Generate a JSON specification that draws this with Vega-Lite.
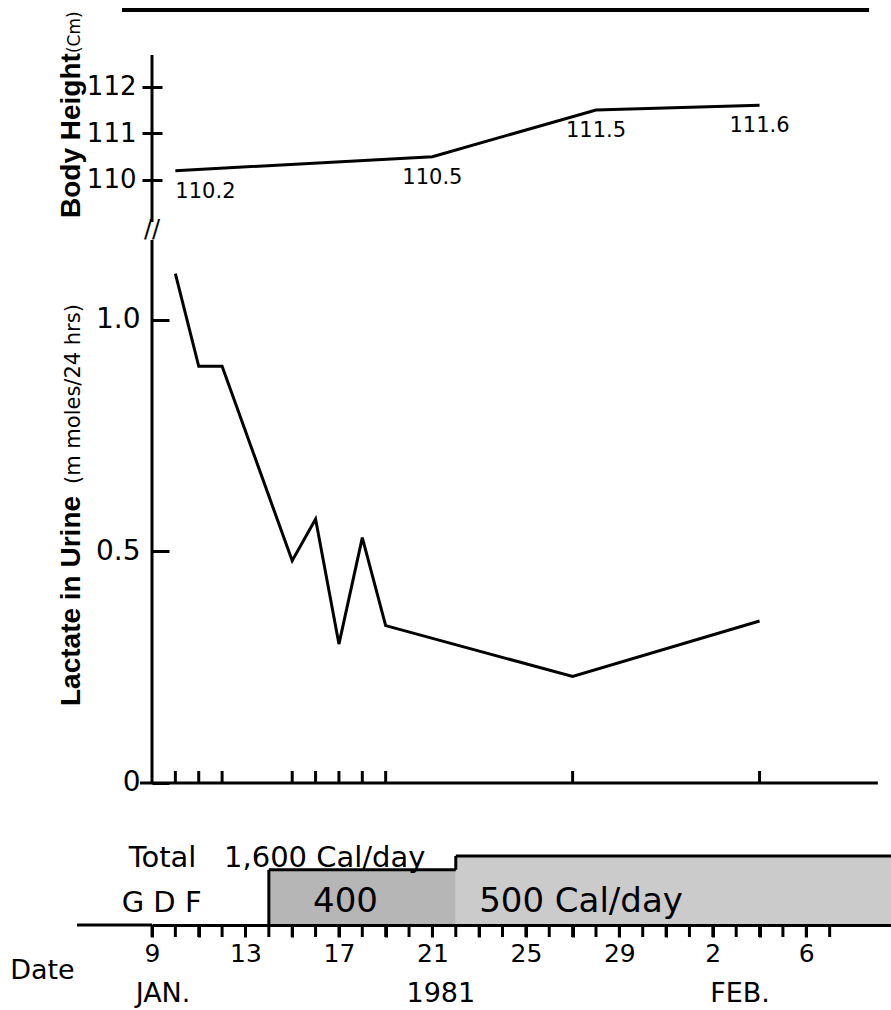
{
  "$schema": "https://vega.github.io/schema/vega-lite/v6.json",
  "autosize": {"type": "none"},
  "padding": {"left": 152, "top": 0, "right": 0, "bottom": 85},
  "width": 739,
  "height": 925,
  "background": "white",
  "config": {
    "view": {"stroke": null},
    "axis": {"grid": false, "labelFont": "DejaVu Sans", "labelColor": "black", "domainColor": "black", "tickColor": "black", "ticks": true},
    "text": {"font": "DejaVu Sans", "color": "black"}
  },
  "resolve": {"scale": {"y": "independent"}, "axis": {"y": "independent"}},
  "layer": [
    {
      "data": {"values": [
        {"date": "1981-01-10", "height_cm": 110.2},
        {"date": "1981-01-21", "height_cm": 110.5},
        {"date": "1981-01-28", "height_cm": 111.5},
        {"date": "1981-02-04", "height_cm": 111.6}
      ]},
      "layer": [
        {
          "mark": {"type": "line", "color": "black", "strokeWidth": 3},
          "encoding": {
            "x": {"field": "date", "type": "temporal",
              "scale": {"type": "utc", "nice": false, "domain": [{"year": 1981, "month": 1, "date": 9, "utc": true}, {"year": 1981, "month": 2, "date": 9, "hours": 15, "utc": true}]},
              "axis": {"orient": "bottom", "zindex": 1, "title": null, "ticks": true,
                "values": [347846400000, 347932800000, 348019200000, 348105600000, 348192000000, 348278400000, 348364800000, 348451200000, 348537600000, 348624000000, 348710400000, 348796800000, 348883200000, 348969600000, 349056000000, 349142400000, 349228800000, 349315200000, 349401600000, 349488000000, 349574400000, 349660800000, 349747200000, 349833600000, 349920000000, 350006400000, 350092800000, 350179200000, 350265600000, 350352000000],
                "labelExpr": "(round((datum.value - 347846400000) / 86400000) % 4 == 0) ? utcFormat(datum.value, '%-d') : ''",
                "tickSize": 12, "tickWidth": 3, "tickColor": "black", "tickOpacity": 1, "domainWidth": 3, "labelFontSize": 25, "labelBaseline": "alphabetic", "labelPadding": 24, "labelOverlap": false, "labelFlush": false}},
            "y": {"field": "height_cm", "type": "quantitative",
              "scale": {"domain": [94.03, 113.8585], "nice": false, "zero": false},
              "axis": {"orient": "left", "values": [110, 111, 112], "offset": -10, "tickSize": 20, "tickWidth": 3, "domain": false, "labelFontSize": 26, "labelPadding": 6, "labelBaseline": "middle", "title": null, "format": "d"}}
          }
        },
        {
          "transform": [{"filter": "datum.height_cm == 110.2"}],
          "mark": {"type": "text", "align": "left", "baseline": "alphabetic", "dy": 27, "fontSize": 21},
          "encoding": {
            "x": {"field": "date", "type": "temporal"},
            "y": {"field": "height_cm", "type": "quantitative"},
            "text": {"field": "height_cm", "type": "quantitative", "format": ".1f"}
          }
        },
        {
          "transform": [{"filter": "datum.height_cm != 110.2"}],
          "mark": {"type": "text", "align": "center", "baseline": "alphabetic", "dy": 27, "fontSize": 21},
          "encoding": {
            "x": {"field": "date", "type": "temporal"},
            "y": {"field": "height_cm", "type": "quantitative"},
            "text": {"field": "height_cm", "type": "quantitative", "format": ".1f"}
          }
        },
        {
          "data": {"values": [{}]},
          "mark": {"type": "rule", "color": "black", "strokeWidth": 3},
          "encoding": {
            "x": {"datum": {"year": 1981, "month": 1, "date": 9, "utc": true}, "type": "temporal"},
            "y": {"datum": 109.1, "type": "quantitative"},
            "y2": {"datum": 112.68}
          }
        },
        {
          "data": {"values": [{}]},
          "mark": {"type": "text", "text": "//", "fontSize": 24, "align": "center", "baseline": "middle"},
          "encoding": {
            "x": {"datum": {"year": 1981, "month": 1, "date": 9, "utc": true}, "type": "temporal"},
            "y": {"datum": 108.93, "type": "quantitative"}
          }
        },
        {
          "data": {"values": [{}]},
          "mark": {"type": "rule", "color": "black", "strokeWidth": 4},
          "encoding": {
            "x": {"datum": {"year": 1981, "month": 1, "date": 7, "hours": 17, "minutes": 10, "utc": true}, "type": "temporal"},
            "x2": {"datum": {"year": 1981, "month": 2, "date": 8, "hours": 16, "minutes": 30, "utc": true}},
            "y": {"datum": 113.644, "type": "quantitative"}
          }
        },
        {
          "data": {"values": [{}]},
          "mark": {"type": "text", "text": "Body Height", "angle": 270, "align": "left", "baseline": "alphabetic", "font": "Liberation Sans", "fontWeight": "bold", "fontSize": 28},
          "encoding": {
            "x": {"datum": {"year": 1981, "month": 1, "date": 5, "hours": 22, "minutes": 20, "utc": true}, "type": "temporal"},
            "y": {"datum": 109.185, "type": "quantitative"}
          }
        },
        {
          "data": {"values": [{}]},
          "mark": {"type": "text", "text": "(Cm)", "angle": 270, "align": "left", "baseline": "alphabetic", "fontSize": 17},
          "encoding": {
            "x": {"datum": {"year": 1981, "month": 1, "date": 5, "hours": 22, "minutes": 20, "utc": true}, "type": "temporal"},
            "y": {"datum": 112.72, "type": "quantitative"}
          }
        }
      ]
    },
    {
      "data": {"values": [
        {"date": "1981-01-10", "lactate": 1.10},
        {"date": "1981-01-11", "lactate": 0.90},
        {"date": "1981-01-12", "lactate": 0.90},
        {"date": "1981-01-15", "lactate": 0.48},
        {"date": "1981-01-16", "lactate": 0.57},
        {"date": "1981-01-17", "lactate": 0.30},
        {"date": "1981-01-18", "lactate": 0.53},
        {"date": "1981-01-19", "lactate": 0.34},
        {"date": "1981-01-27", "lactate": 0.23},
        {"date": "1981-02-04", "lactate": 0.35}
      ]},
      "layer": [
        {
          "mark": {"type": "line", "color": "black", "strokeWidth": 3},
          "encoding": {
            "x": {"field": "date", "type": "temporal"},
            "y": {"field": "lactate", "type": "quantitative",
              "scale": {"domain": [-0.3067, 1.69114], "nice": false, "zero": false},
              "axis": {"orient": "left", "values": [0, 0.5, 1], "offset": -17, "tickSize": 17, "tickWidth": 3, "domain": false, "labelFontSize": 28, "labelPadding": 12, "labelBaseline": "middle", "title": null, "labelExpr": "datum.value == 0 ? '0' : format(datum.value, '.1f')"}}
          }
        },
        {
          "mark": {"type": "rule", "color": "black", "strokeWidth": 3},
          "encoding": {
            "x": {"field": "date", "type": "temporal"},
            "y": {"datum": 0, "type": "quantitative"},
            "y2": {"datum": 0.0259}
          }
        },
        {
          "data": {"values": [{}]},
          "mark": {"type": "rule", "color": "black", "strokeWidth": 3},
          "encoding": {
            "x": {"datum": {"year": 1981, "month": 1, "date": 8, "hours": 11, "minutes": 40, "utc": true}, "type": "temporal"},
            "x2": {"datum": {"year": 1981, "month": 2, "date": 9, "hours": 1, "minutes": 30, "utc": true}},
            "y": {"datum": 0, "type": "quantitative"}
          }
        },
        {
          "data": {"values": [{}]},
          "mark": {"type": "rule", "color": "black", "strokeWidth": 3},
          "encoding": {
            "x": {"datum": {"year": 1981, "month": 1, "date": 9, "utc": true}, "type": "temporal"},
            "y": {"datum": 0, "type": "quantitative"},
            "y2": {"datum": 1.1728}
          }
        },
        {
          "data": {"values": [{}]},
          "mark": {"type": "text", "text": "Lactate in Urine", "angle": 270, "align": "left", "baseline": "alphabetic", "font": "Liberation Sans", "fontWeight": "bold", "fontSize": 28},
          "encoding": {
            "x": {"datum": {"year": 1981, "month": 1, "date": 5, "hours": 22, "minutes": 20, "utc": true}, "type": "temporal"},
            "y": {"datum": 0.1663, "type": "quantitative"}
          }
        },
        {
          "data": {"values": [{}]},
          "mark": {"type": "text", "text": "(m moles/24 hrs)", "angle": 270, "align": "left", "baseline": "alphabetic", "fontSize": 21},
          "encoding": {
            "x": {"datum": {"year": 1981, "month": 1, "date": 5, "hours": 22, "minutes": 20, "utc": true}, "type": "temporal"},
            "y": {"datum": 0.6458, "type": "quantitative"}
          }
        }
      ]
    },
    {
      "data": {"values": [
        {"start": "1981-01-14", "end": "1981-01-22", "gdf_kcal": 400, "prev_kcal": 0, "label": "400"},
        {"start": "1981-01-22", "end": "1981-02-10", "gdf_kcal": 500, "prev_kcal": 400, "label": "500 Cal/day"}
      ]},
      "layer": [
        {
          "mark": {"type": "rect"},
          "encoding": {
            "x": {"field": "start", "type": "temporal"},
            "x2": {"field": "end"},
            "y": {"field": "gdf_kcal", "type": "quantitative", "scale": {"domain": [0, 6702.9], "nice": false, "zero": false}, "axis": null},
            "y2": {"datum": 0},
            "color": {"field": "label", "type": "nominal", "scale": {"domain": ["400", "500 Cal/day"], "range": ["#b6b6b6", "#cbcbcb"]}, "legend": null}
          }
        },
        {
          "mark": {"type": "rule", "color": "black", "strokeWidth": 3},
          "encoding": {
            "x": {"field": "start", "type": "temporal"},
            "x2": {"field": "end"},
            "y": {"field": "gdf_kcal", "type": "quantitative", "axis": null}
          }
        },
        {
          "mark": {"type": "rule", "color": "black", "strokeWidth": 3},
          "encoding": {
            "x": {"field": "start", "type": "temporal"},
            "y": {"field": "prev_kcal", "type": "quantitative", "axis": null},
            "y2": {"field": "gdf_kcal"}
          }
        },
        {
          "data": {"values": [
            {"day": "1981-01-09"}, {"day": "1981-01-10"}, {"day": "1981-01-11"}, {"day": "1981-01-12"}, {"day": "1981-01-13"},
            {"day": "1981-01-14"}, {"day": "1981-01-15"}, {"day": "1981-01-16"}, {"day": "1981-01-17"}, {"day": "1981-01-18"},
            {"day": "1981-01-19"}, {"day": "1981-01-20"}, {"day": "1981-01-21"}, {"day": "1981-01-22"}, {"day": "1981-01-23"},
            {"day": "1981-01-24"}, {"day": "1981-01-25"}, {"day": "1981-01-26"}, {"day": "1981-01-27"}, {"day": "1981-01-28"},
            {"day": "1981-01-29"}, {"day": "1981-01-30"}, {"day": "1981-01-31"}, {"day": "1981-02-01"}, {"day": "1981-02-02"},
            {"day": "1981-02-03"}, {"day": "1981-02-04"}, {"day": "1981-02-05"}, {"day": "1981-02-06"}, {"day": "1981-02-07"}
          ]},
          "mark": {"type": "rule", "color": "black", "strokeWidth": 3},
          "encoding": {
            "x": {"field": "day", "type": "temporal"},
            "y": {"datum": 0, "type": "quantitative", "axis": null},
            "y2": {"datum": -87}
          }
        },
        {
          "data": {"values": [{}]},
          "mark": {"type": "rule", "color": "black", "strokeWidth": 3},
          "encoding": {
            "x": {"datum": {"year": 1981, "month": 1, "date": 5, "hours": 19, "utc": true}, "type": "temporal"},
            "x2": {"datum": {"year": 1981, "month": 1, "date": 9, "utc": true}},
            "y": {"datum": 0, "type": "quantitative", "axis": null}
          }
        },
        {
          "data": {"values": [{}]},
          "mark": {"type": "text", "text": "Total\u00a0\u00a0 1,600 Cal/day", "align": "left", "baseline": "alphabetic", "fontSize": 29},
          "encoding": {
            "x": {"datum": {"year": 1981, "month": 1, "date": 8, "utc": true}, "type": "temporal"},
            "y": {"datum": 422.5, "type": "quantitative", "axis": null}
          }
        },
        {
          "data": {"values": [{}]},
          "mark": {"type": "text", "text": "G D F", "align": "left", "baseline": "alphabetic", "fontSize": 29},
          "encoding": {
            "x": {"datum": {"year": 1981, "month": 1, "date": 7, "hours": 16, "minutes": 50, "utc": true}, "type": "temporal"},
            "y": {"datum": 96.4, "type": "quantitative", "axis": null}
          }
        },
        {
          "data": {"values": [{}]},
          "mark": {"type": "text", "text": "400", "align": "center", "baseline": "alphabetic", "fontSize": 34},
          "encoding": {
            "x": {"datum": {"year": 1981, "month": 1, "date": 17, "hours": 6, "minutes": 45, "utc": true}, "type": "temporal"},
            "y": {"datum": 96.4, "type": "quantitative", "axis": null}
          }
        },
        {
          "data": {"values": [{}]},
          "mark": {"type": "text", "text": "500 Cal/day", "align": "left", "baseline": "alphabetic", "fontSize": 34},
          "encoding": {
            "x": {"datum": {"year": 1981, "month": 1, "date": 23, "utc": true}, "type": "temporal"},
            "y": {"datum": 96.4, "type": "quantitative", "axis": null}
          }
        },
        {
          "data": {"values": [{}]},
          "mark": {"type": "text", "text": "Date", "align": "center", "baseline": "alphabetic", "fontSize": 27},
          "encoding": {
            "x": {"datum": {"year": 1981, "month": 1, "date": 4, "hours": 7, "minutes": 30, "utc": true}, "type": "temporal"},
            "y": {"datum": -390, "type": "quantitative", "axis": null}
          }
        },
        {
          "data": {"values": [{}]},
          "mark": {"type": "text", "text": "JAN.", "align": "center", "baseline": "alphabetic", "fontSize": 27},
          "encoding": {
            "x": {"datum": {"year": 1981, "month": 1, "date": 9, "hours": 11, "minutes": 20, "utc": true}, "type": "temporal"},
            "y": {"datum": -555, "type": "quantitative", "axis": null}
          }
        },
        {
          "data": {"values": [{}]},
          "mark": {"type": "text", "text": "1981", "align": "center", "baseline": "alphabetic", "fontSize": 27},
          "encoding": {
            "x": {"datum": {"year": 1981, "month": 1, "date": 21, "hours": 8, "minutes": 40, "utc": true}, "type": "temporal"},
            "y": {"datum": -555, "type": "quantitative", "axis": null}
          }
        },
        {
          "data": {"values": [{}]},
          "mark": {"type": "text", "text": "FEB.", "align": "center", "baseline": "alphabetic", "fontSize": 27},
          "encoding": {
            "x": {"datum": {"year": 1981, "month": 2, "date": 3, "hours": 4, "utc": true}, "type": "temporal"},
            "y": {"datum": -555, "type": "quantitative", "axis": null}
          }
        }
      ]
    }
  ]
}
